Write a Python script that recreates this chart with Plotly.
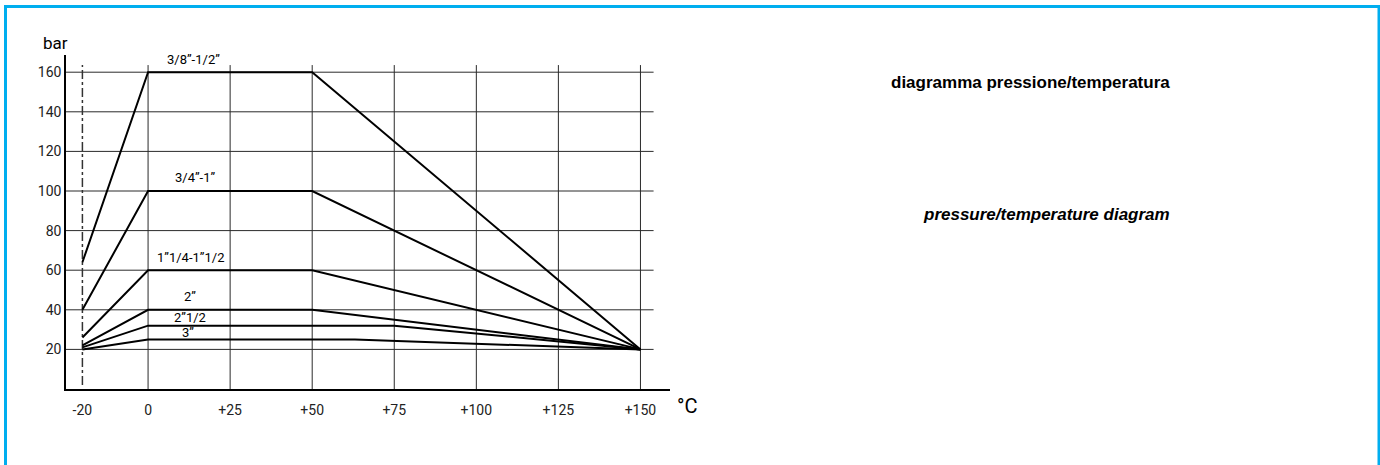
import plotly.graph_objects as go

# ---- data ----
sizes = ["3/8\u201d-1/2\u201d", "3/4\u201d-1\u201d", "1\u201d1/4-1\u201d1/2", "2\u201d", "2\u201d1/2", "3\u201d"]
temps = {
    sizes[0]: [-20, 0, 50, 150],
    sizes[1]: [-20, 0, 50, 150],
    sizes[2]: [-20, 0, 50, 150],
    sizes[3]: [-20, 0, 50, 150],
    sizes[4]: [-20, 0, 75, 150],
    sizes[5]: [-20, 0, 63, 150],
}
pressures = {
    sizes[0]: [64, 160, 160, 20],
    sizes[1]: [40, 100, 100, 20],
    sizes[2]: [26, 60, 60, 20],
    sizes[3]: [22, 40, 40, 20],
    sizes[4]: [21, 32, 32, 20],
    sizes[5]: [20, 25, 25, 20],
}
x_ticks = [-20, 0, 25, 50, 75, 100, 125, 150]
x_tick_labels = ["-20", "0", "+25", "+50", "+75", "+100", "+125", "+150"]
y_ticks = [20, 40, 60, 80, 100, 120, 140, 160]
y_tick_labels = ["20", "40", "60", "80", "100", "120", "140", "160"]
min_temp_line = -20

# label placement (layout, not data)
label_pos = {
    sizes[0]: (13.7, 166.2),
    sizes[1]: (14.6, 106.6),
    sizes[2]: (12.8, 66.2),
    sizes[3]: (12.8, 46.5),
    sizes[4]: (12.8, 36.1),
    sizes[5]: (12.2, 28.6),
}

W, H = 1380, 465
L, R, T, B = 66, 670, 55, 389
XR = [-25, 159]
YR = [0, (B - T) / 1.98]

def px_x(px):
    return (px - L) / (R - L)

def px_y(py):
    return (B - py) / (B - T)

fig = go.Figure()

chart_font = "Roboto, DejaVu Sans, sans-serif"

for s in sizes:
    fig.add_trace(go.Scatter(x=temps[s], y=pressures[s], mode="lines",
                             line=dict(color="black", width=2), showlegend=False,
                             hoverinfo="skip"))

shapes = []
for yv in y_ticks:
    shapes.append(dict(type="line", xref="x", yref="y", x0=XR[0], x1=154, y0=yv, y1=yv,
                       line=dict(color="#2a2a2a", width=1), layer="below"))
for xv in x_ticks[1:]:
    shapes.append(dict(type="line", xref="x", yref="y", x0=xv, x1=xv, y0=0, y1=163.6,
                       line=dict(color="#2a2a2a", width=1), layer="below"))
shapes.append(dict(type="line", xref="x", yref="y", x0=min_temp_line, x1=min_temp_line,
                   y0=2, y1=163.6, line=dict(color="#333", width=1.5, dash="dashdot"),
                   layer="below"))
shapes.append(dict(type="rect", xref="paper", yref="paper",
                   x0=px_x(5.5), x1=px_x(1379), y0=px_y(6.5), y1=px_y(475),
                   line=dict(color="#00aeef", width=3), fillcolor="rgba(0,0,0,0)"))

annotations = []
for s in sizes:
    lx, ly = label_pos[s]
    annotations.append(dict(x=lx, y=ly, xref="x", yref="y", text=s, showarrow=False,
                            xanchor="center", yanchor="middle",
                            font=dict(family=chart_font, size=13, color="black")))
annotations.append(dict(x=px_x(55), y=px_y(43), xref="paper", yref="paper", text="bar",
                        xanchor="center", yanchor="middle",
                        showarrow=False, font=dict(family=chart_font, size=17, color="black")))
annotations.append(dict(x=px_x(687), y=px_y(406), xref="paper", yref="paper", text="°C",
                        xanchor="center", yanchor="middle",
                        showarrow=False, font=dict(family=chart_font, size=20, color="black")))
annotations.append(dict(x=px_x(1172), y=px_y(82), xref="paper", yref="paper",
                        text="<b>diagramma pressione/temperatura</b>", showarrow=False,
                        xanchor="right", yanchor="middle",
                        font=dict(family="Liberation Sans, Arial, sans-serif", size=17, color="black")))
annotations.append(dict(x=px_x(1172), y=px_y(214), xref="paper", yref="paper",
                        text="<b><i>pressure/temperature diagram</i></b>", showarrow=False,
                        xanchor="right", yanchor="middle",
                        font=dict(family="Liberation Sans, Arial, sans-serif", size=17, color="black")))

fig.update_layout(
    width=W, height=H,
    margin=dict(l=L, r=W - R, t=T, b=H - B, pad=0),
    paper_bgcolor="white", plot_bgcolor="white",
    shapes=shapes, annotations=annotations,
    xaxis=dict(range=XR, showgrid=False, zeroline=False, showline=True, linecolor="black",
               linewidth=1.5, tickvals=x_ticks, ticktext=x_tick_labels, ticks="",
               ticklabelstandoff=7,
               tickfont=dict(family=chart_font, size=14, color="#222"), fixedrange=True),
    yaxis=dict(range=YR, showgrid=False, zeroline=False, showline=True, linecolor="black",
               linewidth=1.5, tickvals=y_ticks, ticktext=y_tick_labels, ticks="",
               ticklabelstandoff=0,
               tickfont=dict(family=chart_font, size=14, color="#222"), fixedrange=True),
)

fig.write_html("out.html", config={"displayModeBar": False},
               post_script="document.body.style.margin='0';document.body.style.overflow='hidden';")
